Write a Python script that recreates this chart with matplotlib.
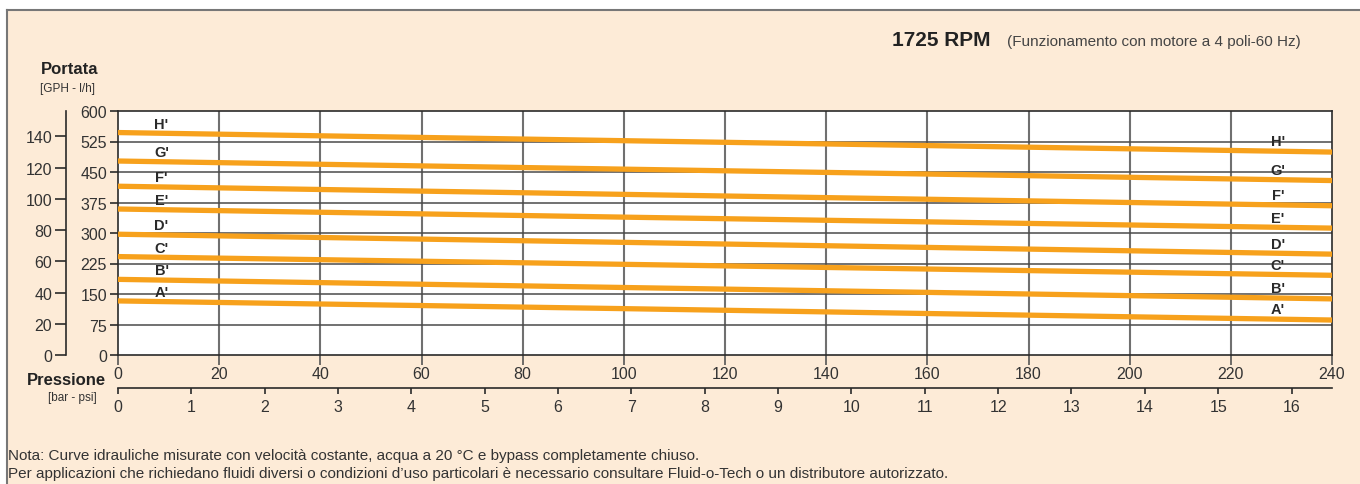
import numpy as np
import matplotlib.pyplot as plt
from matplotlib.patches import Rectangle
from matplotlib.lines import Line2D

# pressure (psi) where the flow values were read
pressure_psi = [0, 100, 240]

# flow l/h for each curve
curve_names = ["A'", "B'", "C'", "D'", "E'", "F'", "G'", "H'"]
flow_A = [133, 114, 86]
flow_B = [186, 166, 138]
flow_C = [242, 223, 196]
flow_D = [297, 277, 248]
flow_E = [359, 339, 312]
flow_F = [415, 395, 367]
flow_G = [477, 457, 429]
flow_H = [547, 527, 499]
flows = [flow_A, flow_B, flow_C, flow_D, flow_E, flow_F, flow_G, flow_H]

lh_ticks = [0, 75, 150, 225, 300, 375, 450, 525, 600]
gph_ticks = [0, 20, 40, 60, 80, 100, 120, 140]
psi_ticks = list(range(0, 241, 20))
bar_ticks = list(range(0, 17))

title_bold = "1725 RPM"
title_rest = "(Funzionamento con motore a 4 poli-60 Hz)"
note_1 = "Nota: Curve idrauliche misurate con velocità costante, acqua a 20 °C e bypass completamente chiuso."
note_2 = ("Per applicazioni che richiedano fluidi diversi o condizioni d\u2019uso particolari è necessario "
          "consultare Fluid-o-Tech o un distributore autorizzato.")

# unit conversions as drawn on the chart
LH_PER_GPH = 3.84
PSI_PER_BAR = 14.5

plt.rcParams['font.family'] = ['Liberation Sans', 'DejaVu Sans']

W, H = 1360, 485
beige = '#fdebd7'
orange = '#f7a11c'
txt = '#333333'

fig = plt.figure(figsize=(W / 100, H / 100), dpi=100, facecolor='white')

# beige panel with gray border on top and left
fig.patches.append(Rectangle((7 / W, 0), 1, 1 - 11 / H, transform=fig.transFigure,
                             facecolor=beige, edgecolor='none', zorder=-5))
fig.lines.append(Line2D([7 / W, 1], [1 - 11 / H, 1 - 11 / H], transform=fig.transFigure,
                        color='#777777', lw=1.5, zorder=-4))
fig.lines.append(Line2D([7 / W, 7 / W], [0, 1 - 11 / H], transform=fig.transFigure,
                        color='#777777', lw=1.5, zorder=-4))

x0, x1, ytop, ybot = 118, 1332, 112, 356
ax = fig.add_axes([x0 / W, (H - ybot) / H, (x1 - x0) / W, (ybot - ytop) / H])
ax.set_facecolor('white')
ax.set_xlim(0, 240)
ax.set_ylim(0, 600)

ax.set_xticks(psi_ticks)
ax.set_yticks(lh_ticks)
for x in psi_ticks[1:-1]:
    ax.axvline(x, color='#707070', lw=1.5, zorder=1)
for y in lh_ticks[1:-1]:
    ax.axhline(y, color='#4a4a4a', lw=1.1, zorder=1)

for s in ax.spines.values():
    s.set_color('#2a2a2a')
    s.set_linewidth(1.2)

ax.tick_params(axis='x', direction='out', length=7, width=1.2, color='#555555',
               labelsize=11.5, labelcolor=txt, pad=1)
ax.tick_params(axis='y', direction='out', length=6, width=1.2, color='#2a2a2a',
               labelsize=11.5, labelcolor=txt, pad=2)

for name, f in zip(curve_names, flows):
    ax.plot(pressure_psi, f, color=orange, lw=3.8, solid_capstyle='butt', zorder=3)
    ax.annotate(name, xy=(8.6, np.interp(8.6, pressure_psi, f)), xytext=(0, 7),
                textcoords='offset points', ha='center', va='center',
                fontsize=10.5, fontweight='bold', color='#2a2a2a', zorder=4)
    ax.annotate(name, xy=(229.3, np.interp(229.3, pressure_psi, f)), xytext=(0, 7),
                textcoords='offset points', ha='center', va='center',
                fontsize=10.5, fontweight='bold', color='#2a2a2a', zorder=4)

# GPH axis on the far left
gph = ax.secondary_yaxis(-(x0 - 66) / (x1 - x0),
                         functions=(lambda v: v / LH_PER_GPH, lambda v: v * LH_PER_GPH))
gph.set_yticks(gph_ticks)
gph.spines['left'].set_color('#2a2a2a')
gph.spines['left'].set_linewidth(1.2)
gph.tick_params(direction='out', length=8, width=1.2, color='#2a2a2a',
                labelsize=11.5, labelcolor=txt, pad=2)

# bar axis under the psi axis
bar = ax.secondary_xaxis(-(389 - ybot) / (ybot - ytop),
                         functions=(lambda v: v / PSI_PER_BAR, lambda v: v * PSI_PER_BAR))
bar.set_xticks(bar_ticks)
bar.spines['bottom'].set_color('#2a2a2a')
bar.spines['bottom'].set_linewidth(1.2)
bar.tick_params(direction='out', length=4, width=1.2, color='#2a2a2a',
                labelsize=11.5, labelcolor=txt, pad=4)

# axis titles
fig.text(70 / W, 1 - 70 / H, 'Portata', ha='center', va='center', fontsize=12,
         fontweight='bold', color='#222222')
fig.text(68 / W, 1 - 89 / H, '[GPH - l/h]', ha='center', va='center', fontsize=8.5, color=txt)
fig.text(106 / W, 1 - 381 / H, 'Pressione', ha='right', va='center', fontsize=12,
         fontweight='bold', color='#222222')
fig.text(72 / W, 1 - 398 / H, '[bar - psi]', ha='center', va='center', fontsize=8.5, color=txt)

# title
fig.text(892 / W, 1 - 46 / H, title_bold, ha='left', va='baseline', fontsize=15,
         fontweight='bold', color='#222222')
fig.text(1301 / W, 1 - 46 / H, title_rest, ha='right', va='baseline', fontsize=11,
         color='#444444')

# notes
fig.text(8 / W, 1 - 456 / H, note_1, ha='left', va='center', fontsize=11, color=txt)
fig.text(8 / W, 1 - 474 / H, note_2, ha='left', va='center', fontsize=11, color=txt)

fig.savefig('out.png', dpi=100, facecolor='white')
